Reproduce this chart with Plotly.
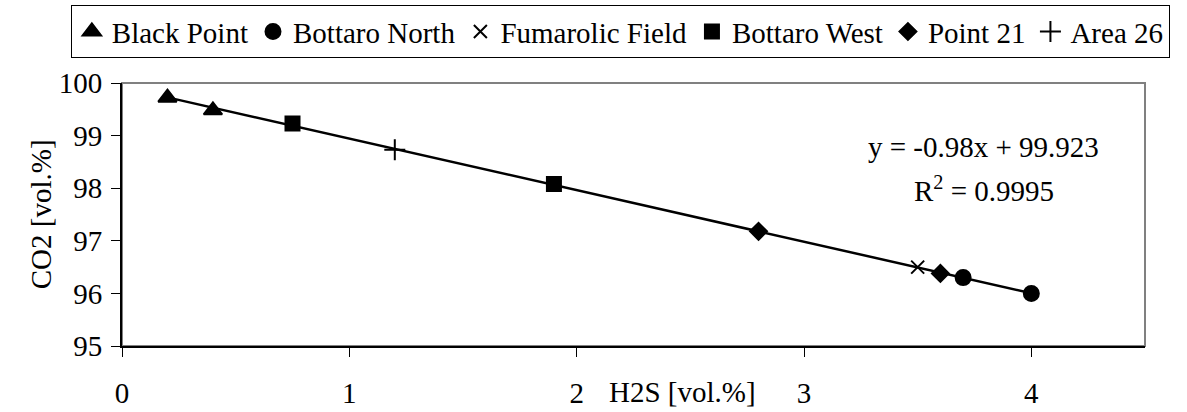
import plotly.graph_objects as go

# H2S vs CO2 gas composition by sampling site
black_point_h2s = [0.2, 0.4]
black_point_co2 = [99.72, 99.48]
bottaro_north_h2s = [3.7, 4.0]
bottaro_north_co2 = [96.30, 96.00]
fumarolic_h2s = [3.5]
fumarolic_co2 = [96.50]
bottaro_west_h2s = [0.75, 1.9]
bottaro_west_co2 = [99.23, 98.08]
point21_h2s = [2.8, 3.6]
point21_co2 = [97.18, 96.38]
area26_h2s = [1.2]
area26_co2 = [98.73]

# linear fit reported on the chart
slope = -0.98
intercept = 99.923
r_squared = 0.9995
fit_x = [0.2, 4.0]

x_ticks = [0, 1, 2, 3, 4]
y_ticks = [95, 96, 97, 98, 99, 100]

FONT = "Liberation Serif"
FS = 29
TXT = dict(family=FONT, size=FS, color="black")

fig = go.Figure()

fig.add_trace(go.Scatter(
    x=fit_x, y=[slope * v + intercept for v in fit_x],
    mode="lines", line=dict(color="black", width=2.5),
    showlegend=False, hoverinfo="skip"))

series = [
    ("Black Point", black_point_h2s, black_point_co2, "triangle-up", 16),
    ("Bottaro North", bottaro_north_h2s, bottaro_north_co2, "circle", 15),
    ("Fumarolic Field", fumarolic_h2s, fumarolic_co2, "x-thin", 13),
    ("Bottaro West", bottaro_west_h2s, bottaro_west_co2, "square", 14),
    ("Point 21", point21_h2s, point21_co2, "diamond", 13),
    ("Area 26", area26_h2s, area26_co2, "cross-thin", 15),
]
for name, xs, ys, sym, size in series:
    fig.add_trace(go.Scatter(
        x=xs, y=ys, mode="markers", name=name,
        marker=dict(symbol=sym, size=size, color="black",
                    line=dict(color="black", width=2))))

# grey frame around the plotting area
fig.add_shape(type="rect", xref="paper", yref="paper", x0=0, x1=1, y0=0, y1=1,
              line=dict(color="#808080", width=2), layer="below")

fig.add_annotation(x=3.79, y=98.78, text=f"y = {slope}x + {intercept}",
                   showarrow=False, font=TXT)
fig.add_annotation(x=3.79, y=97.98, text=f"R<sup>2</sup> = {r_squared}",
                   showarrow=False, font=TXT)
fig.add_annotation(xref="paper", yref="paper", x=0.548, y=-0.175, yanchor="middle",
                   text="H2S [vol.%]", showarrow=False, font=TXT)
fig.add_annotation(xref="paper", yref="paper", x=-0.097, y=0.5, textangle=-90,
                   text="CO2 [vol.%]", showarrow=False, font=TXT)

fig.update_layout(
    width=1187, height=412,
    margin=dict(l=122, r=42, t=83, b=66, autoexpand=False),
    paper_bgcolor="white", plot_bgcolor="white",
    font=TXT,
    showlegend=True,
    legend=dict(orientation="h", x=-0.05, xanchor="left", y=1.296, yanchor="top",
                bordercolor="black", borderwidth=1, bgcolor="white",
                font=TXT, itemwidth=30, tracegroupgap=0),
    xaxis=dict(range=[0, 4.5], tickvals=x_ticks, showgrid=False, zeroline=False,
               showline=True, linecolor="black", linewidth=2,
               ticks="outside", ticklen=9, tickcolor="black", tickwidth=1,
               tickfont=TXT, ticklabelstandoff=11),
    yaxis=dict(range=[95, 100], tickvals=y_ticks, showgrid=False, zeroline=False,
               showline=True, linecolor="black", linewidth=2,
               ticks="outside", ticklen=9, tickcolor="black", tickwidth=1,
               tickfont=TXT, ticklabelstandoff=3),
)

fig.write_html("out.html")
